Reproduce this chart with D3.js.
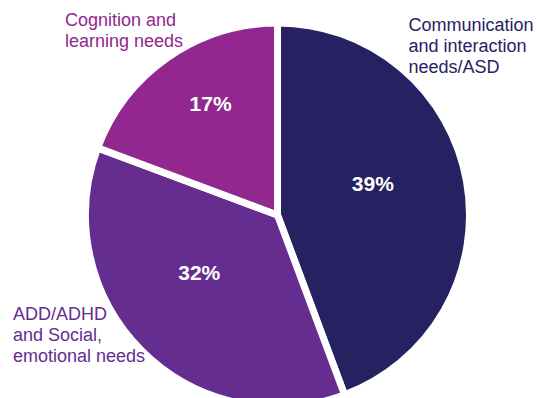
<!DOCTYPE html>
<html>
<head>
<meta charset="utf-8">
<script src="https://cdn.jsdelivr.net/npm/d3@7"></script>
<style>
  html, body { margin: 0; padding: 0; background: #fff; }
  svg { display: block; font-family: "Liberation Sans", Arial, Helvetica, sans-serif; }
</style>
</head>
<body>
<svg id="chart" width="537" height="398"></svg>
<script>
// Data
const categories = [
  "Communication and interaction needs/ASD",
  "ADD/ADHD and Social, emotional needs",
  "Cognition and learning needs"
];
const labelLines = [
  ["Communication", "and interaction", "needs/ASD"],
  ["ADD/ADHD", "and Social,", "emotional needs"],
  ["Cognition and", "learning needs"]
];
const values = [39, 32, 17];
const colors = ["#262262", "#662D91", "#92278F"];

// Layout
const W = 537, H = 398;
const cx = 277.5, cy = 215, R = 192;

const svg = d3.select("#chart");
const g = svg.append("g").attr("transform", `translate(${cx},${cy})`);

const pie = d3.pie().sort(null).value(d => d.value);
const arcs = pie(values.map((v, i) => ({ value: v, i })));
const arc = d3.arc().innerRadius(0).outerRadius(R);

g.selectAll("path.slice")
  .data(arcs)
  .join("path")
  .attr("class", "slice")
  .attr("d", arc)
  .attr("fill", d => colors[d.data.i])
  .attr("stroke", "#fff")
  .attr("stroke-width", 7)
  .attr("stroke-linejoin", "miter");

// Percent labels, placed from the arc centroid with small nudges
const labelArc = d3.arc().innerRadius(105).outerRadius(105);
const nudges = [[-8, -13], [-4, -17], [-7, -25]];
g.selectAll("text.pct")
  .data(arcs)
  .join("text")
  .attr("class", "pct")
  .attr("x", d => labelArc.centroid(d)[0] + nudges[d.data.i][0])
  .attr("y", d => labelArc.centroid(d)[1] + nudges[d.data.i][1])
  .attr("text-anchor", "middle")
  .attr("dominant-baseline", "central")
  .attr("fill", "#fff")
  .attr("font-weight", "bold")
  .attr("font-size", 21)
  .text(d => d.data.value + "%");

// Category labels
const catPos = [
  { x: cx + 131, y: 31 },
  { x: 13, y: 320 },
  { x: 65, y: 26 }
];
const lh = 20.8;
categories.forEach((c, i) => {
  const t = svg.append("text")
    .attr("x", catPos[i].x)
    .attr("y", catPos[i].y)
    .attr("fill", colors[i])
    .attr("font-size", 18);
  labelLines[i].forEach((ln, j) => {
    t.append("tspan")
      .attr("x", catPos[i].x)
      .attr("y", catPos[i].y + j * lh)
      .text(ln);
  });
});
</script>
</body>
</html>
